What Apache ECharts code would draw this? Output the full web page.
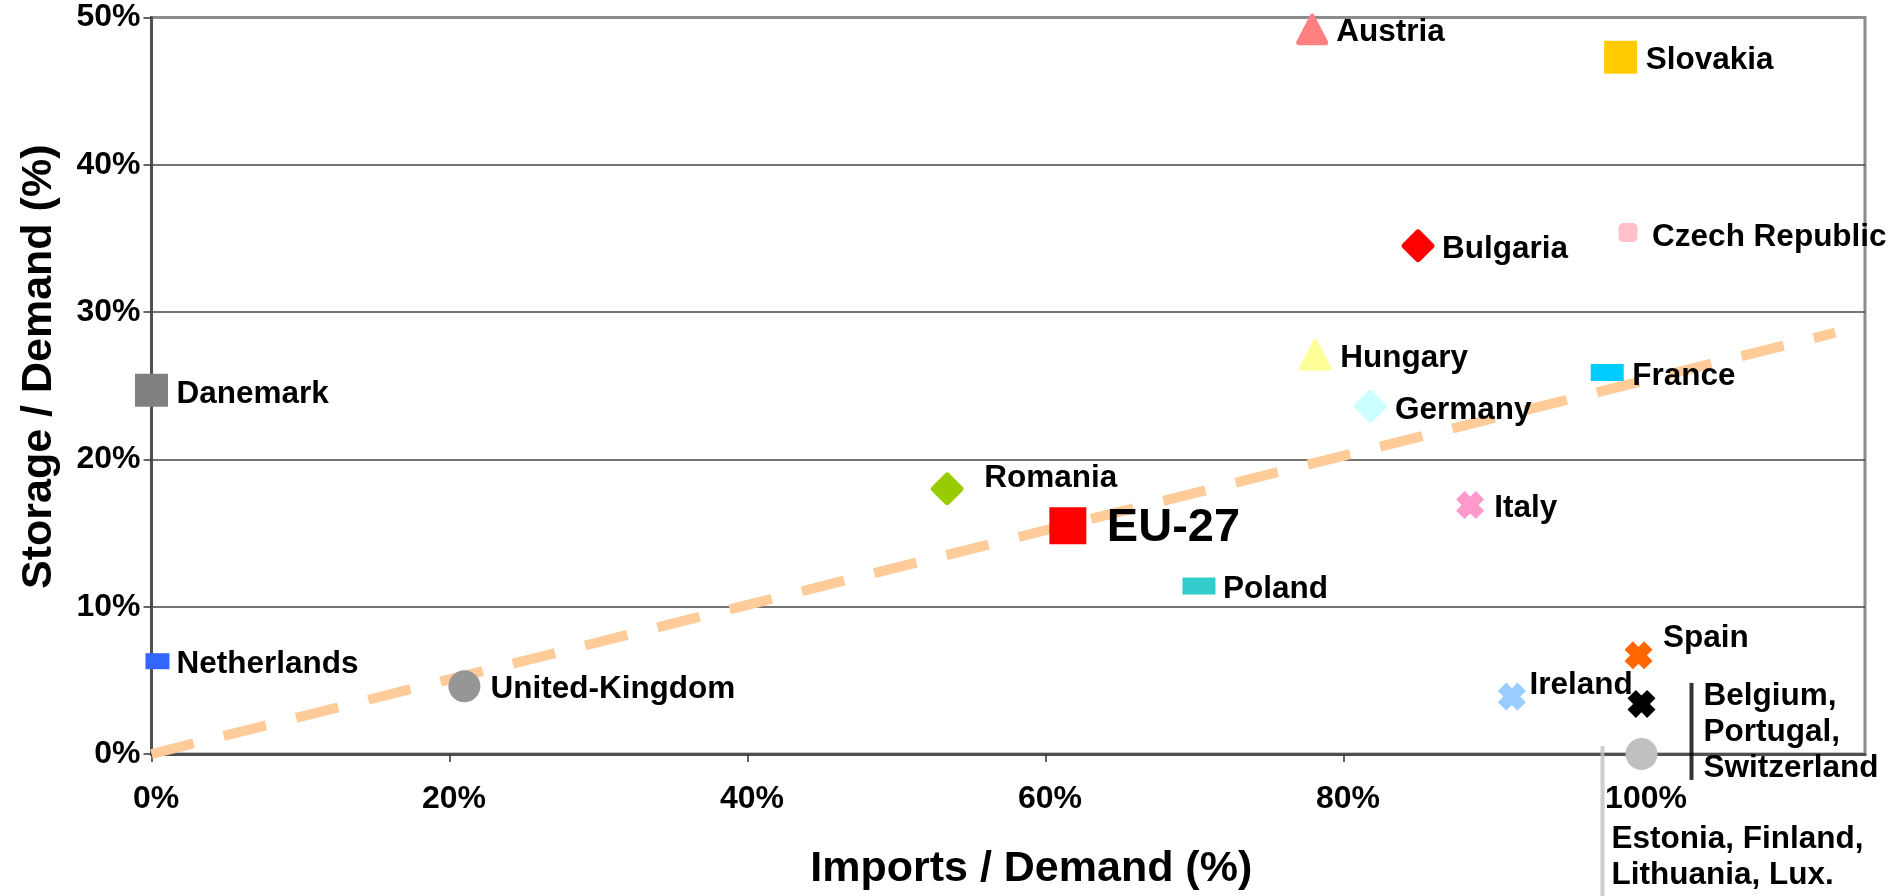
<!DOCTYPE html>
<html>
<head>
<meta charset="utf-8">
<script src="https://cdn.jsdelivr.net/npm/echarts@6/dist/echarts.min.js"></script>
<style>
html,body{margin:0;padding:0;background:#fff;}
#chart{width:1895px;height:896px;}
</style>
</head>
<body>
<div id="chart"></div>
<script>
// ---- Data ----
const countries = ['Austria','Slovakia','Bulgaria','Czech Republic','Hungary','France','Danemark','Germany','Romania','EU-27','Italy','Poland','Netherlands','United-Kingdom','Spain','Ireland','Belgium, Portugal, Switzerland','Estonia, Finland, Lithuania, Lux.'];
const labelTexts = ['Austria','Slovakia','Bulgaria','Czech Republic','Hungary','France','Danemark','Germany','Romania','EU-27','Italy','Poland','Netherlands','United-Kingdom','Spain','Ireland','Belgium,\nPortugal,\nSwitzerland','Estonia, Finland,\nLithuania, Lux.'];
const importsShare = [0.779, 0.986, 0.850, 0.991, 0.781, 0.977, 0.000, 0.818, 0.534, 0.615, 0.885, 0.703, 0.004, 0.210, 0.998, 0.913, 1.000, 1.000];
const storageShare = [0.492, 0.473, 0.345, 0.354, 0.271, 0.259, 0.247, 0.236, 0.180, 0.155, 0.169, 0.114, 0.063, 0.046, 0.067, 0.039, 0.034, 0.000];
const trendImports = [0, 1.13];
const trendStorage = [0, 0.286];
const xTickValues = [0, 0.2, 0.4, 0.6, 0.8, 1.0];
const yTickValues = [0, 0.1, 0.2, 0.3, 0.4, 0.5];

// ---- Styles (separate from data) ----
const FONT = '"Liberation Sans", Arial, sans-serif';
const TRI = 'path://M44,10Q50,0 56,10L96,88Q100,100 88,100L12,100Q0,100 4,88Z';
const DIA = 'path://M44,6Q50,0 56,6L94,44Q100,50 94,56L56,94Q50,100 44,94L6,56Q0,50 6,44Z';
const XM = 'path://M0,3L3,0L5,2L7,0L10,3L8,5L10,7L7,10L5,8L3,10L0,7L2,5Z';
const styles = {
  'Austria': {symbol: TRI, size: [32,32], color: '#FF8080', off: [24, 3.5]},
  'Slovakia': {symbol: 'rect', size: 33, color: '#FFCC00', off: [25, 3.5]},
  'Bulgaria': {symbol: DIA, size: 33, color: '#FF0000', off: [24, 3.5]},
  'Czech Republic': {symbol: 'roundRect', size: 19, color: '#FFC0C8', off: [24, 4.5]},
  'Hungary': {symbol: TRI, size: [32,32], color: '#FFFF99', off: [25, 3.7]},
  'France': {symbol: 'rect', size: [33,17], color: '#00CCFF', off: [25, 3.4]},
  'Danemark': {symbol: 'rect', size: 33, color: '#808080', off: [25, 3.7]},
  'Germany': {symbol: DIA, size: 33, color: '#CCFFFF', off: [24.7, 4.3]},
  'Romania': {symbol: DIA, size: 33, color: '#99CC00', off: [37, -11]},
  'EU-27': {symbol: 'rect', size: 37, color: '#FF0000', off: [39, 2], fs: 47},
  'Italy': {symbol: XM, size: 28, color: '#FF99CC', off: [24, 3.6]},
  'Poland': {symbol: 'rect', size: [33,17], color: '#33CCCC', off: [24, 3.7]},
  'Netherlands': {symbol: 'rect', size: [24,16], color: '#3366FF', off: [19, 3]},
  'United-Kingdom': {symbol: 'circle', size: 32, color: '#969696', off: [26, 3.4]},
  'Spain': {symbol: XM, size: 28, color: '#FF6600', off: [24.4, -17]},
  'Ireland': {symbol: XM, size: 28, color: '#99CCFF', off: [17.6, -11]},
  'Belgium, Portugal, Switzerland': {symbol: XM, size: 28, color: '#000000', off: [62, 28], bar: {size: [4, 97], off: [50, 27.5], color: '#000000'}},
  'Estonia, Finland, Lithuania, Lux.': {symbol: 'circle', size: 32, color: '#C0C0C0', off: [-30, 103], bar: {size: [4, 150], off: [-39, 67], color: '#C0C0C0'}}
};

const pct = v => Math.round(v * 100) + '%';

const series = [];
series.push({
  type: 'line',
  name: 'trend',
  data: trendImports.map((x, i) => [x, trendStorage[i]]),
  symbol: 'none',
  lineStyle: {color: '#FFCC99', width: 10, type: [43.5, 31], cap: 'butt'},
  silent: true,
  z: 1,
  clip: false
});
countries.forEach((name, i) => {
  const s = styles[name];
  const pt = [importsShare[i], storageShare[i]];
  if (s.bar) {
    series.push({
      type: 'scatter', name: name + ' bar', data: [pt],
      symbol: 'rect', symbolSize: s.bar.size, symbolOffset: s.bar.off,
      itemStyle: {color: s.bar.color}, silent: true, clip: false, z: 2
    });
  }
  series.push({
    type: 'scatter',
    name: name,
    data: [pt],
    symbol: s.symbol,
    symbolSize: s.size,
    itemStyle: {color: s.color, opacity: 1},
    clip: false,
    z: 3,
    label: {
      show: true,
      formatter: labelTexts[i],
      position: 'inside',
      align: 'left',
      verticalAlign: 'middle',
      offset: s.off,
      color: '#000',
      fontFamily: FONT,
      fontWeight: 'bold',
      fontSize: s.fs || 31.5,
      lineHeight: 36
    }
  });
});

const chart = echarts.init(document.getElementById('chart'), null, {renderer: 'canvas'});
chart.setOption({
  animation: false,
  backgroundColor: '#ffffff',
  grid: {left: 151.5, right: 30, top: 17.5, bottom: 140, containLabel: false,
         show: true, borderColor: '#8C8C8C', borderWidth: 3, backgroundColor: 'transparent'},
  xAxis: {
    type: 'value', min: 0, max: 1.15, interval: 0.2,
    name: 'Imports / Demand (%)', nameLocation: 'middle', nameGap: 94,
    nameTextStyle: {fontFamily: FONT, fontWeight: 'bold', fontSize: 43, color: '#000', padding: [0, 0, 0, 46]},
    axisLine: {show: true, onZero: false, lineStyle: {color: '#505050', width: 3}},
    axisTick: {show: true, length: 8, lineStyle: {color: '#333', width: 1.5}},
    axisLabel: {
      formatter: v => xTickValues.some(t => Math.abs(t - v) < 1e-9) ? pct(v) : '',
      showMaxLabel: false,
      margin: 29, fontFamily: FONT, fontWeight: 'bold', fontSize: 32, color: '#000',
      padding: [0, 0, 0, 9]
    },
    splitLine: {show: false}
  },
  yAxis: {
    type: 'value', min: 0, max: 0.5, interval: 0.1,
    name: 'Storage / Demand (%)', nameLocation: 'middle', nameGap: 91,
    nameTextStyle: {fontFamily: FONT, fontWeight: 'bold', fontSize: 43, color: '#000', padding: [0, 0, 0, 38]},
    axisLine: {show: true, onZero: false, lineStyle: {color: '#505050', width: 3}},
    axisTick: {show: true, length: 8, lineStyle: {color: '#333', width: 1.5}},
    axisLabel: {
      formatter: v => yTickValues.some(t => Math.abs(t - v) < 1e-9) ? pct(v) : '',
      margin: 11, fontFamily: FONT, fontWeight: 'bold', fontSize: 32, color: '#000',
      padding: [8, 0, 0, 0]
    },
    splitLine: {show: true, showMinLine: false, showMaxLine: false, lineStyle: {color: '#444444', width: 1.5}}
  },
  series: series
});
</script>
</body>
</html>
